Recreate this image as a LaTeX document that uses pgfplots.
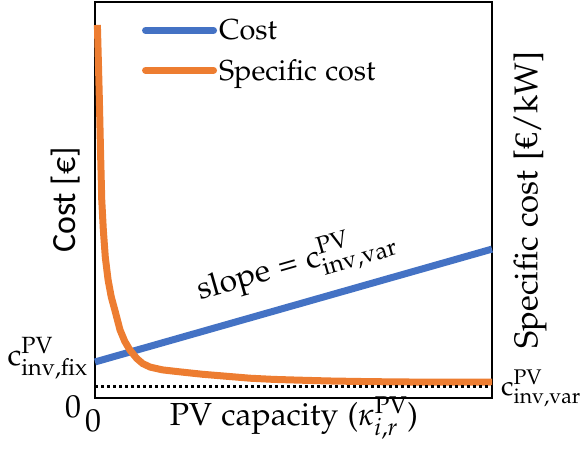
\documentclass[border=0pt]{standalone}
\usepackage[T1]{fontenc}
\usepackage{mathpazo}
\usepackage[no-math]{fontspec}
\usepackage{pgfplots}
\pgfplotsset{compat=1.18}
\newfontfamily\carlito{Carlito}
\newfontfamily\libserif{Liberation Serif}
\newcommand\pal{\fontencoding{T1}\fontfamily{pplx}\selectfont}
\definecolor{cblue}{HTML}{4472C4}
\definecolor{corange}{HTML}{ED7D31}
\begin{document}
\begin{tikzpicture}
\path[use as bounding box] (-95bp,-54bp) rectangle (489bp,398bp);
\begin{axis}[
  at={(0,0)}, anchor=south west,
  width=397bp, height=396bp, scale only axis,
  xmin=0, xmax=100, ymin=0, ymax=100,
  xtick=\empty, ytick=\empty,
  axis line style={line width=2bp},
  clip=false,
  legend style={draw=none, fill=none, at={(axis cs:11.8,96.1)}, anchor=north west,
    font=\pal\fontsize{29}{34}\selectfont, row sep=14bp, inner sep=0pt,
    cells={anchor=west}},
  legend image code/.code={\draw[#1,line cap=round] (0bp,0bp) -- (68bp,0bp);},
]
\addplot[cblue, line width=7bp] coordinates {(0,9.1) (50,23.35) (100,37.6)};
\addlegendentry{Cost}
\addplot[corange, line width=7bp, line join=round] coordinates {
(0.6,94.2) (0.85,85) (1.1,75.3) (1.4,62) (1.7,50) (2.1,42.4) (2.6,35.5) (3.3,29.8)
(4.1,25.5) (5.0,22.2) (6.3,17.2) (7.5,14.3) (8.8,12.1) (10.5,10.0) (12,8.7)
(13.9,7.8) (17,7.1) (21.4,6.6) (27,6.0) (33,5.5) (39,5.0) (45,4.7) (51.6,4.5)
(59,4.3) (68,4.15) (77,4.05) (88,4.0) (100,4.0)};
\addlegendentry{Specific cost}
\addplot[black, line width=3bp, dash pattern=on 3bp off 3bp, forget plot] coordinates {(0,2.8) (100,2.8)};
\end{axis}
\begin{scope}[every node/.style={inner sep=0pt, font=\pal\fontsize{32}{38}\selectfont}]
\node at (-22bp,-9bp) {0};
\node at (-2bp,-23bp) {0};
\node[anchor=base east, font=\pal\fontsize{31}{38}\selectfont] at (-7bp,33bp) {$\mathrm{c}^{\mathrm{PV}}_{\mathrm{inv{,}fix}}$};
\node[anchor=base west, font=\pal\fontsize{28}{34}\selectfont] at (406bp,3bp) {$\mathrm{c}^{\mathrm{PV}}_{\mathrm{inv{,}var}}$};
\node[rotate=90, font=\carlito\fontsize{34}{40}\selectfont] at (-29bp,198bp) {Cost [€]};
\node[rotate=90, font=\pal\fontsize{33}{40}\selectfont] at (435bp,198bp) {Specific cost [{\libserif €}/kW]};
\node[anchor=base] at (199bp,-27bp) {PV capacity ($\kappa^{\mathrm{PV}}_{i{,}r}$)};
\node[rotate=15.9, anchor=base west, font=\pal\fontsize{32}{38}\selectfont] at (105bp,98bp) {slope = $\mathrm{c}^{\mathrm{PV}}_{\mathrm{inv{,}var}}$};
\end{scope}
\end{tikzpicture}
\end{document}
